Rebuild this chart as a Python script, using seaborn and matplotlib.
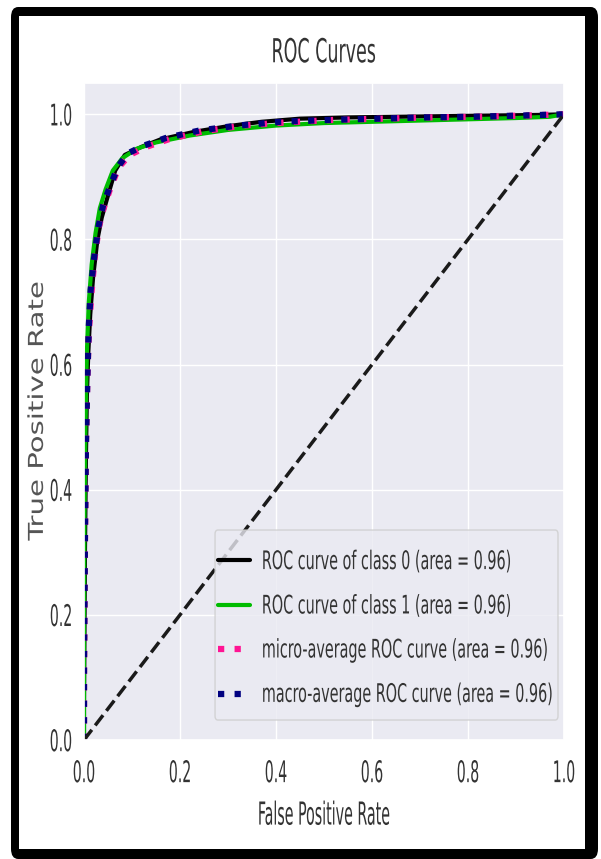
import numpy as np
import matplotlib
matplotlib.use("Agg")
import matplotlib.pyplot as plt
from matplotlib import font_manager as fm
from matplotlib.patches import FancyBboxPatch, Rectangle
from matplotlib.patheffects import AbstractPathEffect
from matplotlib.transforms import Affine2D
from matplotlib.path import Path
import seaborn as sns

# ---- data ----
fpr_class0 = [0.0, 0.0, 0.002, 0.004, 0.006, 0.009, 0.013, 0.019, 0.028, 0.037, 0.048, 0.065,
              0.085, 0.12, 0.16, 0.23, 0.30, 0.37, 0.45, 0.55, 0.65, 0.75, 0.85, 0.95, 1.0]
tpr_class0 = [0.0, 0.05, 0.30, 0.45, 0.55, 0.62, 0.68, 0.74, 0.80, 0.835, 0.865, 0.91,
              0.935, 0.948, 0.96, 0.972, 0.981, 0.988, 0.993, 0.995, 0.996, 0.997, 0.998, 0.999, 1.0]

fpr_class1 = [0.0, 0.0, 0.001, 0.003, 0.006, 0.010, 0.016, 0.024, 0.033, 0.045, 0.060, 0.080,
              0.11, 0.15, 0.22, 0.30, 0.40, 0.50, 0.60, 0.70, 0.80, 0.90, 0.97, 1.0]
tpr_class1 = [0.0, 0.20, 0.35, 0.50, 0.62, 0.70, 0.76, 0.81, 0.85, 0.88, 0.91, 0.93,
              0.945, 0.955, 0.966, 0.975, 0.982, 0.986, 0.988, 0.990, 0.992, 0.994, 0.996, 1.0]

fpr_micro = [0.0, 0.0, 0.002, 0.004, 0.007, 0.010, 0.015, 0.022, 0.031, 0.041, 0.054, 0.072,
             0.095, 0.13, 0.18, 0.25, 0.33, 0.42, 0.52, 0.62, 0.72, 0.82, 0.92, 1.0]
tpr_micro = [0.0, 0.10, 0.32, 0.47, 0.58, 0.65, 0.71, 0.77, 0.82, 0.85, 0.88, 0.915,
             0.935, 0.948, 0.961, 0.973, 0.982, 0.987, 0.991, 0.993, 0.995, 0.996, 0.998, 1.0]

fpr_macro = [0.0, 0.0, 0.002, 0.004, 0.007, 0.010, 0.014, 0.021, 0.030, 0.040, 0.052, 0.070,
             0.090, 0.125, 0.17, 0.24, 0.32, 0.41, 0.51, 0.61, 0.71, 0.81, 0.91, 1.0]
tpr_macro = [0.0, 0.12, 0.33, 0.47, 0.58, 0.66, 0.72, 0.77, 0.82, 0.855, 0.88, 0.915,
             0.937, 0.95, 0.962, 0.974, 0.982, 0.988, 0.991, 0.993, 0.995, 0.996, 0.998, 1.0]

diag = [0.0, 1.0]

labels = ["ROC curve of class 0 (area = 0.96)",
          "ROC curve of class 1 (area = 0.96)",
          "micro-average ROC curve (area = 0.96)",
          "macro-average ROC curve (area = 0.96)"]
ticks = [0.0, 0.2, 0.4, 0.6, 0.8, 1.0]
tick_labels = ["0.0", "0.2", "0.4", "0.6", "0.8", "1.0"]


class Stretch(AbstractPathEffect):
    """Draws a text stretched vertically about its own centre (the reference
    picture was stretched in height)."""

    def __init__(self, sy=1.0, sx=1.0):
        super().__init__()
        self.sy, self.sx = sy, sx

    def draw_path(self, renderer, gc, tpath, affine, rgbFace=None):
        v = np.asarray(tpath.vertices)
        if tpath.codes is not None and len(v):
            keep = (tpath.codes != Path.CLOSEPOLY) & (tpath.codes != Path.STOP)
            v = v[keep]
        if len(v):
            d = affine.transform(v)
            cx = 0.5 * (d[:, 0].min() + d[:, 0].max())
            cy = 0.5 * (d[:, 1].min() + d[:, 1].max())
        else:
            cx = cy = 0.0
        aff = affine + Affine2D().translate(-cx, -cy).scale(self.sx, self.sy).translate(cx, cy)
        renderer.draw_path(gc, tpath, aff, rgbFace)


# ---- style ----
sns.set_theme(style="darkgrid")

narrow_font = None
for f in fm.fontManager.ttflist:
    if ("Narrow" in f.name or "Condensed" in f.name or
            (f.name == "DejaVu Sans" and str(f.stretch) in ("condensed", "semi-condensed", "587", "500"))
            and f.style == "normal" and f.weight in (400, "normal", "regular")):
        narrow_font = f
        break

if narrow_font is not None:
    fam = [narrow_font.name, "DejaVu Sans"]
    stretch = narrow_font.stretch
    k = 1.0
else:
    fam = ["DejaVu Sans"]
    stretch = "normal"
    k = 0.88
plt.rcParams["font.family"] = fam
plt.rcParams["font.stretch"] = stretch

s_tick, s_title, s_xlab, s_ylab, s_leg = 11.3 * k, 14 * k, 11.4 * k, 14.8 * k, 11.5 * k
txt_col = "#333333"

W, H = 601, 859
fig = plt.figure(figsize=(W / 100, H / 100), dpi=100)
fig.patch.set_facecolor("white")

# black frame around the picture
fig.patches.append(FancyBboxPatch((11 / W, 0 / H), (598 - 11) / W, (852 - 0) / H,
                                  boxstyle="round,pad=0,rounding_size=0.012",
                                  transform=fig.transFigure, facecolor="black",
                                  edgecolor="none", zorder=-10))
fig.patches.append(Rectangle((19 / W, (H - 849) / H), (585 - 19) / W, (849 - 16) / H,
                             transform=fig.transFigure, facecolor="white",
                             edgecolor="none", zorder=-9))

ax = fig.add_axes([84 / W, (H - 740) / H, (564 - 84) / W, (740 - 83) / H])

sns.lineplot(x=fpr_class0, y=tpr_class0, ax=ax, color="black", lw=3,
             label=labels[0], sort=False, estimator=None)
sns.lineplot(x=fpr_class1, y=tpr_class1, ax=ax, color=plt.cm.nipy_spectral(0.5), lw=3,
             label=labels[1], sort=False, estimator=None)
sns.lineplot(x=fpr_micro, y=tpr_micro, ax=ax, color="deeppink", lw=4.5,
             label=labels[2], sort=False, estimator=None)
sns.lineplot(x=fpr_macro, y=tpr_macro, ax=ax, color="navy", lw=4.5,
             label=labels[3], sort=False, estimator=None)
for ln in ax.lines[2:4]:
    ln.set_linestyle(":")
ax.plot(diag, diag, "k--", lw=2.5)

ax.set_xlim(0, 1)
ax.set_ylim(0, 1.05)
ax.set_xticks(ticks)
ax.set_xticklabels(tick_labels)
ax.set_yticks(ticks)
ax.set_yticklabels(tick_labels)
ax.tick_params(axis="both", labelsize=s_tick, colors=txt_col, length=0)
ax.tick_params(axis="x", pad=18)
ax.tick_params(axis="y", pad=8.5)

title = ax.set_title("ROC Curves", fontsize=s_title, color=txt_col, pad=18.5)
title.set_path_effects([Stretch(1.7)])
xl = ax.set_xlabel("False Positive Rate", fontsize=s_xlab, color=txt_col)
ax.xaxis.set_label_coords(0.5, -0.1015)
xl.set_path_effects([Stretch(2.0)])
yl = ax.set_ylabel("True Positive Rate", fontsize=s_ylab, color="#555555")
ax.yaxis.set_label_coords(-0.0773, 0.5)
yl.set_path_effects([Stretch(1.58)])

# legend (frame drawn as a separate box so that its padding can match the reference)
leg = ax.legend(loc="upper left", bbox_to_anchor=(0.279, 0.283), fontsize=s_leg,
                labelspacing=1.84, handlelength=2.0, borderpad=0.0, borderaxespad=0.0,
                handletextpad=0.75, frameon=False)
for t in leg.get_texts():
    t.set_color(txt_col)
    t.set_path_effects([Stretch(1.6)])
leg.set_zorder(6)
box = FancyBboxPatch((0.273, 0.0304), 0.9875 - 0.273, 0.3196 - 0.0304,
                     boxstyle="round,pad=0,rounding_size=0.006",
                     transform=ax.transAxes, facecolor="#eaeaf2", alpha=0.8,
                     edgecolor="#cccccc", lw=1.0, zorder=5)
ax.add_patch(box)
box.set_clip_on(False)

fig.canvas.draw()
for t in ax.get_xticklabels() + ax.get_yticklabels():
    t.set_path_effects([Stretch(1.9)])

fig.savefig("out.png", dpi=100)
